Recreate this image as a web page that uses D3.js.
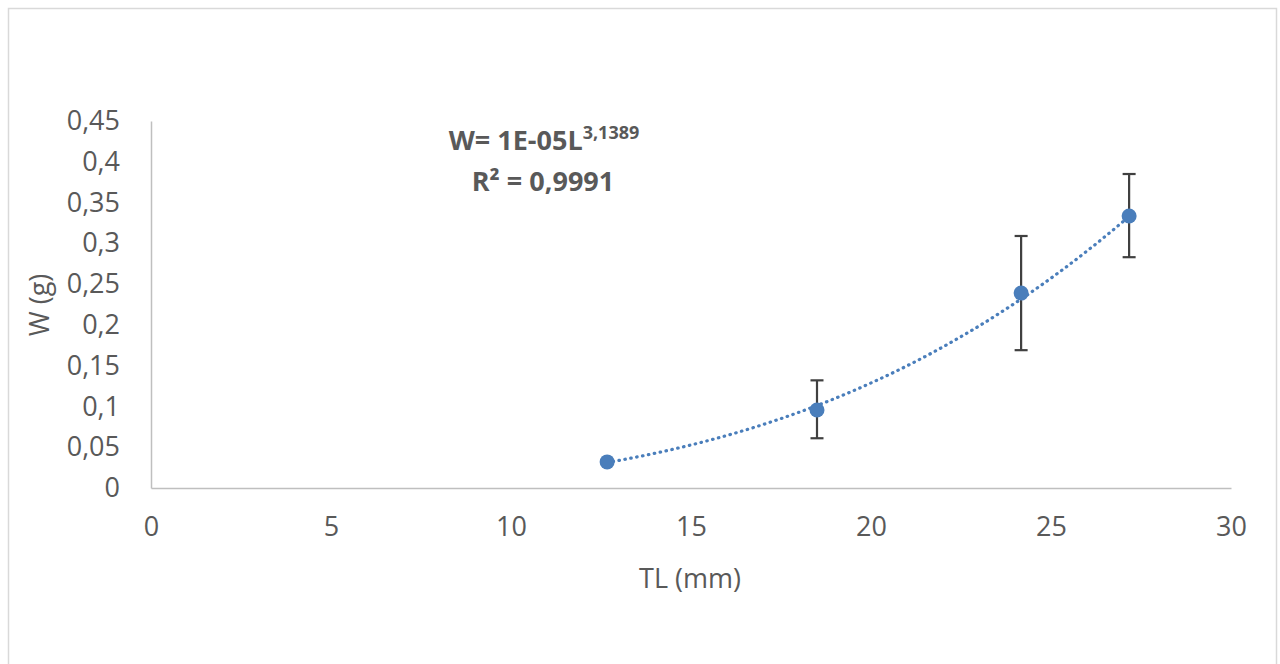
<!DOCTYPE html>
<html>
<head>
<meta charset="utf-8">
<script src="https://cdn.jsdelivr.net/npm/d3@7"></script>
<style>
  body { margin: 0; background: #fff; }
  svg { display: block; font-family: "Open Sans", sans-serif; }
</style>
</head>
<body>
<svg width="1280" height="664"></svg>
<script>
// data
const lengths = [12.67, 18.5, 24.17, 27.17]        // TL (mm)
const weights = [0.032, 0.0956, 0.239, 0.3335]     // W (g)
const errLow  = [0.032, 0.061, 0.169, 0.283]
const errHigh = [0.032, 0.132, 0.309, 0.385]
const xTicks = [0, 5, 10, 15, 20, 25, 30]
const yTicks = [0, 0.05, 0.1, 0.15, 0.2, 0.25, 0.3, 0.35, 0.4, 0.45]

const svg = d3.select("svg")
const grey = "#595959"
const blue = "#4a7ebb"

// chart frame
svg.append("rect")
  .attr("x", 8.5).attr("y", 8.5)
  .attr("width", 1268).attr("height", 670)
  .attr("fill", "#fff")
  .attr("stroke", "#d9d9d9")
  .attr("stroke-width", 1.5)

const x = d3.scaleLinear().domain([0, 30]).range([151, 1231])
const y = d3.scaleLinear().domain([0, 0.45]).range([488, 121])

const fmt = d => String(d).replace(".", ",")

// axes
const xAxis = svg.append("g")
  .attr("transform", "translate(0," + y(0) + ")")
  .call(d3.axisBottom(x).tickValues(xTicks).tickSize(0).tickPadding(29).tickFormat(fmt))
const yAxis = svg.append("g")
  .attr("transform", "translate(" + x(0) + ",0)")
  .call(d3.axisLeft(y).tickValues(yTicks).tickSize(0).tickPadding(31).tickFormat(fmt))

;[xAxis, yAxis].forEach(a => {
  a.select(".domain").attr("stroke", "#bfbfbf").attr("stroke-width", 1.5)
  a.selectAll("text")
    .attr("fill", grey)
    .style("font-size", "27px")
    .style("font-family", "'Open Sans', sans-serif")
})

// axis titles
svg.append("text")
  .attr("x", 690).attr("y", 588)
  .attr("text-anchor", "middle")
  .attr("fill", grey)
  .style("font-size", "27px")
  .text("TL (mm)")

svg.append("text")
  .attr("transform", "translate(49," + 305 + ") rotate(-90)")
  .attr("text-anchor", "middle")
  .attr("fill", grey)
  .style("font-size", "27px")
  .text("W (g)")

// power trendline, fitted in log-log space like the spreadsheet does
const lx = lengths.map(Math.log), ly = weights.map(Math.log)
const mx = d3.mean(lx), my = d3.mean(ly)
const b = d3.sum(lx, (v, i) => (v - mx) * (ly[i] - my)) / d3.sum(lx, v => (v - mx) * (v - mx))
const a = Math.exp(my - b * mx)
const xs = d3.range(0, 61).map(i => lengths[0] + (lengths[3] - lengths[0]) * i / 60)

svg.append("path")
  .datum(xs)
  .attr("fill", "none")
  .attr("stroke", blue)
  .attr("stroke-width", 3.2)
  .attr("stroke-linecap", "round")
  .attr("stroke-dasharray", "0.5,5.5")
  .attr("d", d3.line().x(d => x(d)).y(d => y(a * Math.pow(d, b))))

// error bars
const bars = svg.append("g").attr("stroke", "#404040").attr("stroke-width", 2.2)
lengths.forEach((L, i) => {
  if (errHigh[i] - errLow[i] < 0.001) return
  bars.append("line")
    .attr("x1", x(L)).attr("x2", x(L))
    .attr("y1", y(errHigh[i])).attr("y2", y(errLow[i]))
  ;[errHigh[i], errLow[i]].forEach(v => {
    bars.append("line")
      .attr("x1", x(L) - 6.5).attr("x2", x(L) + 6.5)
      .attr("y1", y(v)).attr("y2", y(v))
  })
})

// markers
svg.append("g").selectAll("circle")
  .data(lengths)
  .join("circle")
  .attr("cx", d => x(d))
  .attr("cy", (d, i) => y(weights[i]))
  .attr("r", 7.5)
  .attr("fill", blue)

// equation label
const eq = svg.append("text")
  .attr("x", 544).attr("y", 150)
  .attr("text-anchor", "middle")
  .attr("fill", grey)
  .style("font-size", "27px")
  .style("font-weight", "bold")
eq.append("tspan").text("W= 1E-05L")
eq.append("tspan").attr("dy", -11).style("font-size", "18px").text("3,1389")

svg.append("text")
  .attr("x", 543).attr("y", 191)
  .attr("text-anchor", "middle")
  .attr("fill", grey)
  .style("font-size", "27px")
  .style("font-weight", "bold")
  .text("R² = 0,9991")
</script>
</body>
</html>
